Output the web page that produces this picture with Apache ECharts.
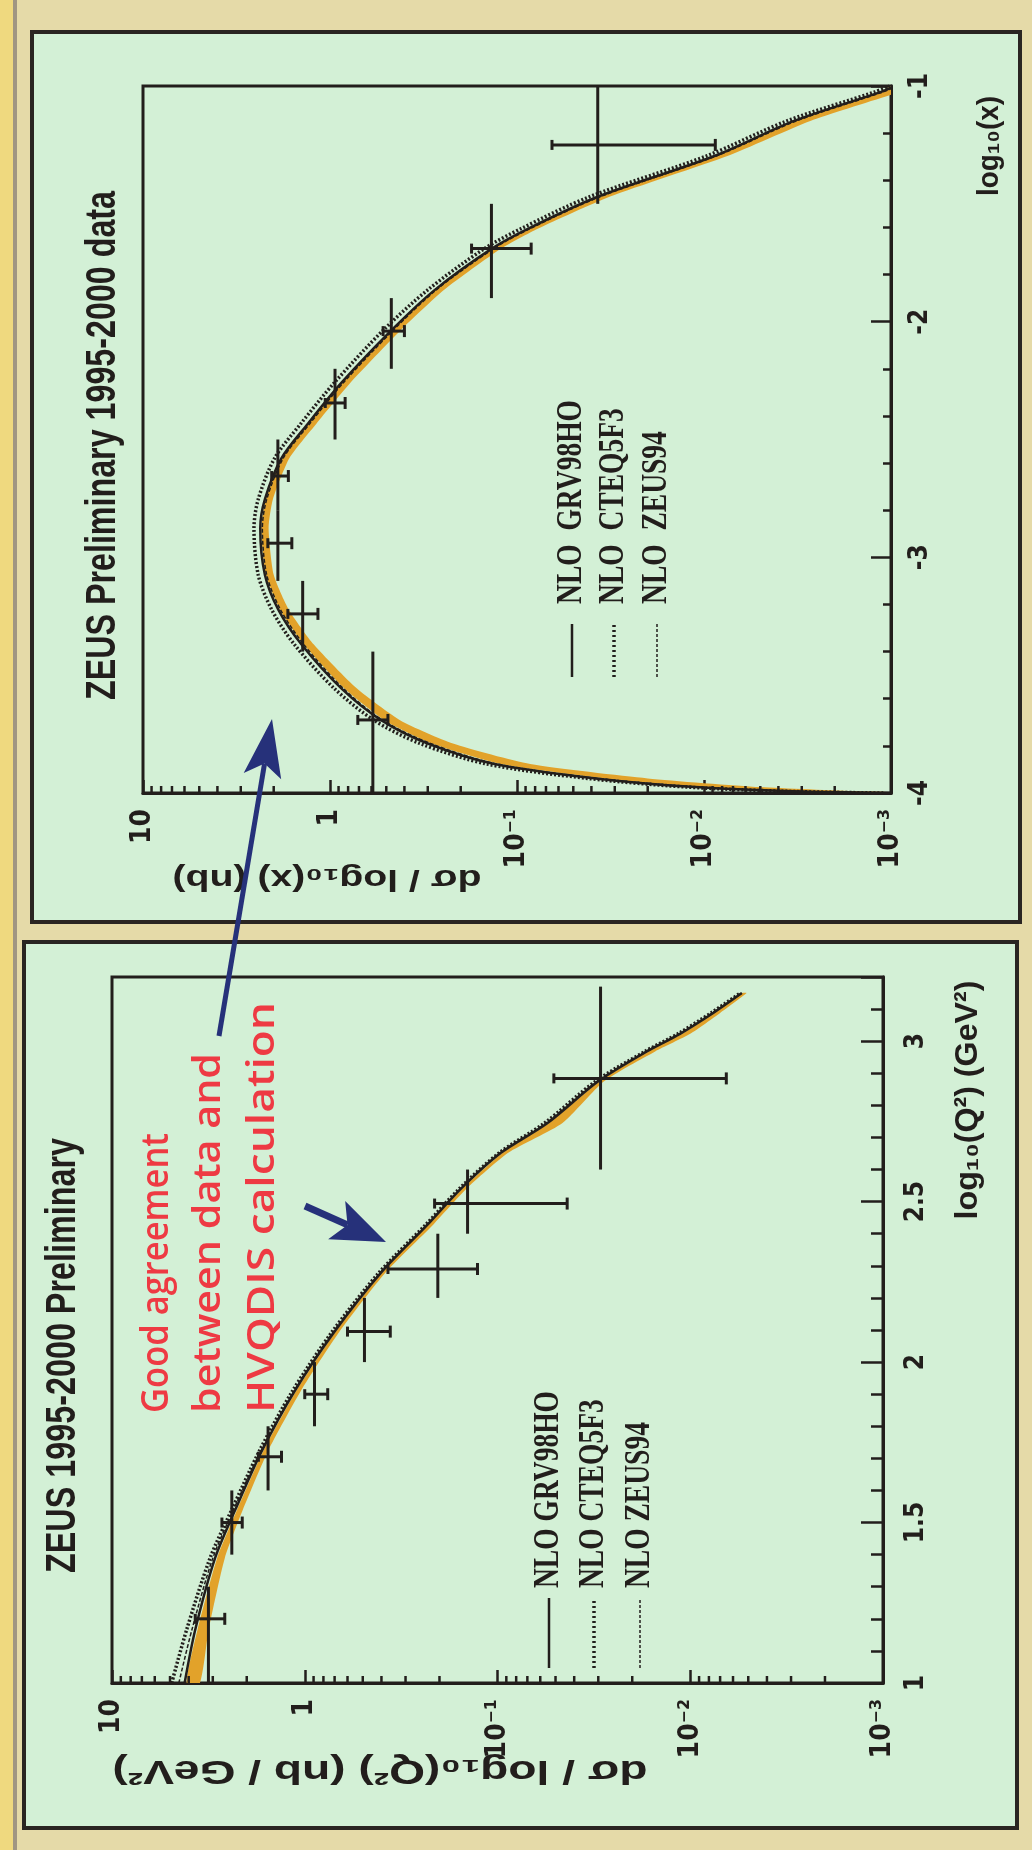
<!DOCTYPE html>
<html><head><meta charset="utf-8">
<script src="https://cdn.jsdelivr.net/npm/echarts@6/dist/echarts.min.js"></script>
<style>html,body{margin:0;padding:0;background:#e5daa8}#c{width:1032px;height:1850px}</style>
</head><body><div id="c"></div>
<script>
// ---------- tick labels ----------
const valTickVals = [10, 1, 0.1, 0.01, 0.001];
const valTickLabels = ['10', '1', '10\u207B\u00B9', '10\u207B\u00B2', '10\u207B\u00B3'];
const valMinorTicks = [0.002,0.003,0.004,0.005,0.006,0.007,0.008,0.009,
  0.02,0.03,0.04,0.05,0.06,0.07,0.08,0.09,
  0.2,0.3,0.4,0.5,0.6,0.7,0.8,0.9,
  2,3,4,5,6,7,8,9];
const lxTickVals = [-4, -3, -2, -1];
const lxTickLabels = ['-4', '-3', '-2', '-1'];
const lqTickVals = [1, 1.5, 2, 2.5, 3];
const lqTickLabels = ['1', '1.5', '2', '2.5', '3'];

// ---------- top panel: d sigma / d log10(x) ----------
const xLogX  = [-4.0, -3.993, -3.975, -3.938, -3.877, -3.79, -3.692, -3.556, -3.37, -3.222, -3.074, -2.877, -2.754, -2.58, -2.432, -2.26, -2.037, -1.865, -1.691, -1.605, -1.47, -1.297, -1.148, -1.025, -1.0];
const xGRV   = [0.0010, 0.0033, 0.0112, 0.038, 0.132, 0.30, 0.53, 0.87, 1.42, 1.89, 2.23, 2.36, 2.23, 1.82, 1.31, 0.87, 0.47, 0.275, 0.137, 0.087, 0.037, 0.0088, 0.0033, 0.00113, 0.00095];
const xCTEQ  = [0.0011, 0.0036, 0.0123, 0.042, 0.145, 0.33, 0.58, 0.95, 1.55, 2.05, 2.42, 2.55, 2.42, 1.98, 1.43, 0.95, 0.52, 0.30, 0.150, 0.095, 0.041, 0.0097, 0.0036, 0.00122, 0.00102];
const xZEUS  = [0.0010, 0.0032, 0.0108, 0.037, 0.128, 0.29, 0.52, 0.85, 1.38, 1.84, 2.18, 2.30, 2.18, 1.78, 1.28, 0.85, 0.46, 0.27, 0.134, 0.085, 0.036, 0.0086, 0.0032, 0.00110, 0.00093];
const xBandLo= [0.0006, 0.0015, 0.0050, 0.020, 0.085, 0.22, 0.42, 0.72, 1.22, 1.66, 2.00, 2.13, 2.02, 1.65, 1.18, 0.78, 0.42, 0.245, 0.122, 0.077, 0.032, 0.0075, 0.0027, 0.00090, 0.00075];
const xBandHi= [0.0009, 0.0029, 0.0098, 0.034, 0.122, 0.285, 0.51, 0.84, 1.38, 1.85, 2.20, 2.33, 2.20, 1.80, 1.29, 0.86, 0.465, 0.272, 0.135, 0.086, 0.0365, 0.0087, 0.0033, 0.00115, 0.00098];
const xPtLogX  = [-3.69, -3.24, -2.94, -2.655, -2.345, -2.04, -1.69, -1.25];
const xPtVal   = [0.59, 1.40, 1.90, 1.90, 0.94, 0.47, 0.137, 0.037];
const xPtHi    = [0.71, 1.68, 2.15, 2.05, 1.06, 0.52, 0.175, 0.065];
const xPtLo    = [0.49, 1.16, 1.60, 1.67, 0.83, 0.40, 0.084, 0.0087];
const xPtBinLo = [-4.0, -3.4, -3.1, -2.8, -2.5, -2.2, -1.9, -1.5];
const xPtBinHi = [-3.4, -3.1, -2.8, -2.5, -2.2, -1.9, -1.5, -1.0];

// ---------- bottom panel: d sigma / d log10(Q2) ----------
const qLogQ2  = [1.0, 1.166, 1.389, 1.538, 1.723, 1.909, 2.095, 2.28, 2.429, 2.54, 2.652, 2.745, 2.875, 2.968, 3.023, 3.088, 3.15];
const qGRV    = [4.2, 3.7, 2.92, 2.30, 1.67, 1.13, 0.70, 0.40, 0.23, 0.155, 0.096, 0.055, 0.030, 0.0168, 0.0113, 0.0076, 0.0054];
const qCTEQ   = [4.9, 4.1, 3.1, 2.4, 1.72, 1.16, 0.72, 0.41, 0.235, 0.158, 0.098, 0.057, 0.031, 0.0172, 0.0116, 0.0078, 0.0055];
const qZEUS   = [4.5, 3.85, 3.0, 2.35, 1.69, 1.14, 0.71, 0.405, 0.232, 0.156, 0.097, 0.056, 0.0305, 0.0170, 0.0114, 0.0077, 0.0054];
const qBandLo = [3.5, 3.15, 2.6, 2.1, 1.55, 1.05, 0.66, 0.38, 0.215, 0.145, 0.088, 0.046, 0.028, 0.0152, 0.0100, 0.0070, 0.0051];
const qBandHi = [4.1, 3.6, 2.85, 2.25, 1.64, 1.11, 0.69, 0.395, 0.228, 0.152, 0.094, 0.054, 0.0295, 0.0165, 0.0110, 0.0075, 0.0054];
const qPtLogQ2 = [1.20, 1.50, 1.705, 1.90, 2.095, 2.29, 2.494, 2.884];
const qPtVal   = [3.16, 2.39, 1.55, 0.89, 0.49, 0.204, 0.143, 0.0292];
const qPtHi    = [3.7, 2.69, 1.74, 1.0, 0.60, 0.37, 0.212, 0.051];
const qPtLo    = [2.6, 2.11, 1.32, 0.76, 0.36, 0.127, 0.0435, 0.0065];
const qPtBinLo = [1.0, 1.4, 1.6, 1.8, 2.0, 2.2, 2.4, 2.6];
const qPtBinHi = [1.3, 1.6, 1.8, 2.0, 2.2, 2.4, 2.6, 3.17];

// ---------- texts ----------
const topTitle = 'ZEUS Preliminary 1995-2000 data';
const botTitle = 'ZEUS 1995-2000 Preliminary';
const topValName = 'd\u03C3 / log\u2081\u2080(x) (nb)';
const botValName = 'd\u03C3 / log\u2081\u2080(Q\u00B2) (nb / GeV\u00B2)';
const topAxName = 'log\u2081\u2080(x)';
const botAxName = 'log\u2081\u2080(Q\u00B2) (GeV\u00B2)';
const topLegend = ['NLO  GRV98HO', 'NLO  CTEQ5F3', 'NLO  ZEUS94'];
const botLegend = ['NLO GRV98HO', 'NLO CTEQ5F3', 'NLO ZEUS94'];
const note = ['Good agreement', 'between data and', 'HVQDIS calculation'];

// ---------- styling ----------
const INK = '#221e1c';
const BAND = '#e2a22a';
const LBLFONT = '"Liberation Sans Narrow","DejaVu Sans Condensed","Liberation Sans",sans-serif';

function findLabel(vals, labels, v, log) {
  for (let i = 0; i < vals.length; i++) {
    const d = log ? Math.abs(Math.log10(v) - Math.log10(vals[i])) : Math.abs(v - vals[i]);
    if (d < 1e-6) return labels[i];
  }
  return '';
}
const mctx = document.createElement('canvas').getContext('2d');
function rtext(text, x, y, rot, font, color, target, align) {
  mctx.font = font;
  const w = mctx.measureText(text).width;
  const sx = target ? target / w : 1;
  return { type: 'text', x: x, y: y, rotation: rot, scaleX: sx, z: 60,
    style: { text: text, font: font, fill: color, align: align || 'left', verticalAlign: 'middle' } };
}
function fitScale(text, font, target) { mctx.font = font; return target / mctx.measureText(text).width; }

function valAxis(gi) {
  return { gridIndex: gi, type: 'log', logBase: 10, min: 0.001, max: 10, inverse: true, position: 'bottom',
    axisLine: { show: true, lineStyle: { color: INK, width: 3 } },
    axisTick: { show: true, inside: true, length: 13, lineStyle: { color: INK, width: 2.5 } },
    axisLabel: { rotate: 90, margin: 16, color: INK, fontSize: 28, fontWeight: 'bold', fontFamily: LBLFONT,
      formatter: v => findLabel(valTickVals, valTickLabels, v, true) },
    splitLine: { show: false } };
}
function errRender(params, api) {
  const v = api.value(0), y = api.value(1);
  const c = api.coord([v, y]);
  const pH = api.coord([api.value(2), y]);
  const pL = api.coord([api.value(3), y]);
  const q0 = api.coord([v, api.value(4)]);
  const q1 = api.coord([v, api.value(5)]);
  const st = { stroke: INK, lineWidth: 3 };
  return { type: 'group', children: [
    { type: 'line', shape: { x1: pH[0], y1: c[1], x2: pL[0], y2: c[1] }, style: st },
    { type: 'line', shape: { x1: c[0], y1: q0[1], x2: c[0], y2: q1[1] }, style: st },
    { type: 'line', shape: { x1: pL[0], y1: c[1] - 6, x2: pL[0], y2: c[1] + 6 }, style: st },
    { type: 'line', shape: { x1: pH[0], y1: c[1] - 5, x2: pH[0], y2: c[1] + 5 }, style: st }
  ] };
}
function bandRender(ys, lo, hi) {
  return function (params, api) {
    const pts = [];
    for (let i = 0; i < ys.length; i++) pts.push(api.coord([hi[i], ys[i]]));
    for (let i = ys.length - 1; i >= 0; i--) pts.push(api.coord([lo[i], ys[i]]));
    return { type: 'polygon', shape: { points: pts, smooth: 0.2 }, style: { fill: BAND } };
  };
}
function minorRender(params, api) {
  const c = api.coord([api.value(0), api.value(1)]);
  return { type: 'line', shape: { x1: c[0], y1: c[1], x2: c[0], y2: c[1] - 7 }, style: { stroke: INK, lineWidth: 2.5 } };
}
function pairs(ys, vs) { return ys.map((y, i) => [vs[i], y]); }
function errData(ys, v, hi, lo, b0, b1) { return ys.map((y, i) => [v[i], y, hi[i], lo[i], b0[i], b1[i]]); }
function lineSeries(xi, yi, data, style, z) {
  return { type: 'line', xAxisIndex: xi, yAxisIndex: yi, data: data, showSymbol: false, symbol: 'none',
    smooth: 0.3, lineStyle: style, z: z, silent: true };
}

const series = [
  // top
  { type: 'custom', xAxisIndex: 0, yAxisIndex: 0, data: [[1, -2]], renderItem: bandRender(xLogX, xBandLo, xBandHi), clip: true, z: 1, silent: true },
  lineSeries(0, 0, pairs(xLogX, xZEUS), { color: INK, width: 1.5, type: [4, 2] }, 3),
  lineSeries(0, 0, pairs(xLogX, xCTEQ), { color: INK, width: 3.5, type: [2, 2] }, 3),
  lineSeries(0, 0, pairs(xLogX, xGRV), { color: INK, width: 2.5 }, 4),
  { type: 'custom', xAxisIndex: 0, yAxisIndex: 0, data: errData(xPtLogX, xPtVal, xPtHi, xPtLo, xPtBinLo, xPtBinHi), renderItem: errRender, clip: true, z: 5, silent: true, encode: { x: 0, y: 1 } },
  { type: 'custom', xAxisIndex: 0, yAxisIndex: 0, data: valMinorTicks.map(v => [v, lxTickVals[0]]), renderItem: minorRender, clip: false, z: 6, silent: true, encode: { x: 0, y: 1 } },
  // bottom
  { type: 'custom', xAxisIndex: 1, yAxisIndex: 1, data: [[1, 2]], renderItem: bandRender(qLogQ2, qBandLo, qBandHi), clip: true, z: 1, silent: true },
  lineSeries(1, 1, pairs(qLogQ2, qZEUS), { color: INK, width: 1.5, type: [4, 2] }, 3),
  lineSeries(1, 1, pairs(qLogQ2, qCTEQ), { color: INK, width: 3.5, type: [2, 2] }, 3),
  lineSeries(1, 1, pairs(qLogQ2, qGRV), { color: INK, width: 2.5 }, 4),
  { type: 'custom', xAxisIndex: 1, yAxisIndex: 1, data: errData(qPtLogQ2, qPtVal, qPtHi, qPtLo, qPtBinLo, qPtBinHi), renderItem: errRender, clip: true, z: 5, silent: true, encode: { x: 0, y: 1 } },
  { type: 'custom', xAxisIndex: 1, yAxisIndex: 1, data: valMinorTicks.map(v => [v, lqTickVals[0]]), renderItem: minorRender, clip: false, z: 6, silent: true, encode: { x: 0, y: 1 } }
];

// ---------- decorations ----------
const g = [];
g.push({ type: 'rect', shape: { x: 0, y: 0, width: 13, height: 1850 }, style: { fill: '#efd97f' }, z: -20 });
g.push({ type: 'rect', shape: { x: 13, y: 0, width: 4, height: 1850 }, style: { fill: '#a09682' }, z: -20 });
g.push({ type: 'rect', shape: { x: 32, y: 32, width: 988, height: 890 }, style: { fill: '#d3f0d6', stroke: '#2a2522', lineWidth: 4 }, z: -10 });
g.push({ type: 'rect', shape: { x: 24, y: 942, width: 993, height: 886 }, style: { fill: '#d3f0d6', stroke: '#2a2522', lineWidth: 4 }, z: -10 });

const UP = Math.PI / 2;
const TFONT = 'bold 42px "Liberation Sans", Arial, sans-serif';
g.push(rtext(topTitle, 103, 700, UP, TFONT, INK, 509));
g.push(rtext(botTitle, 63, 1573, UP, TFONT, INK, 435));
g.push(rtext(topValName, 327, 878, Math.PI, 'bold 30px "Liberation Sans", sans-serif', INK, 309, 'center'));
g.push(rtext(botValName, 380, 1770, Math.PI, 'bold 34px "Liberation Sans", sans-serif', INK, 535, 'center'));
g.push(rtext(topAxName, 990, 146, UP, 'bold 30px "Liberation Sans", sans-serif', INK, 100, 'center'));
g.push(rtext(botAxName, 968, 1100, UP, 'bold 32px "Liberation Sans", sans-serif', INK, 239, 'center'));

// legends
const LFONT = 'bold 36px "Liberation Serif", "Times New Roman", serif';
const topLegX = [572, 614, 657];
const botLegX = [549, 594, 640];
const lsx1 = fitScale(topLegend[0], LFONT, 204);
const lsx2 = fitScale(botLegend[0], LFONT, 197);
topLegend.forEach((t, i) => { const e = rtext(t, topLegX[i], 604, UP, LFONT, INK, 0); e.scaleX = lsx1; g.push(e); });
botLegend.forEach((t, i) => { const e = rtext(t, botLegX[i], 1588, UP, LFONT, INK, 0); e.scaleX = lsx2; g.push(e); });
const sampleStyles = [
  { stroke: INK, lineWidth: 2.5 },
  { stroke: INK, lineWidth: 3.5, lineDash: [2, 3] },
  { stroke: INK, lineWidth: 1.5, lineDash: [3, 2] }
];
topLegX.forEach((x, i) => g.push({ type: 'line', shape: { x1: x, y1: 677, x2: x, y2: 624 }, style: sampleStyles[i], z: 60 }));
botLegX.forEach((x, i) => g.push({ type: 'line', shape: { x1: x, y1: 1668, x2: x, y2: 1598 }, style: sampleStyles[i], z: 60 }));

// red annotation
const NFONT = '600 38px "Open Sans", "DejaVu Sans", sans-serif';
const noteX = [157, 209, 263];
const noteLen = [280, 360, 411];
note.forEach((t, i) => g.push(rtext(t, noteX[i], 1413, UP, NFONT, '#ee3a43', noteLen[i])));

// arrows
const NAVY = '#26317a';
function arrow(tail, tip, L, W, shaftW) {
  const dx = tip[0] - tail[0], dy = tip[1] - tail[1];
  const len = Math.hypot(dx, dy); const ux = dx / len, uy = dy / len;
  const nx = -uy, ny = ux;
  const bx = tip[0] - L * ux, by = tip[1] - L * uy;
  const kx = tip[0] - 0.78 * L * ux, ky = tip[1] - 0.78 * L * uy;
  g.push({ type: 'line', shape: { x1: tail[0], y1: tail[1], x2: kx, y2: ky }, style: { stroke: NAVY, lineWidth: shaftW }, z: 70 });
  g.push({ type: 'polygon', shape: { points: [tip, [bx + W * nx, by + W * ny], [kx, ky], [bx - W * nx, by - W * ny]] }, style: { fill: NAVY }, z: 70 });
}
arrow([219, 1036], [272, 719], 58, 19, 5);
arrow([305, 1206], [386, 1242], 54, 21, 7);

const option = {
  animation: false,
  backgroundColor: '#e5daa8',
  grid: [
    { left: 143, top: 86, width: 748, height: 707, show: true, borderColor: INK, borderWidth: 3, backgroundColor: 'rgba(0,0,0,0)' },
    { left: 112, top: 977, width: 771, height: 706, show: true, borderColor: INK, borderWidth: 3, backgroundColor: 'rgba(0,0,0,0)' }
  ],
  xAxis: [valAxis(0), valAxis(1)],
  yAxis: [
    { gridIndex: 0, type: 'value', min: -4, max: -1, interval: 1, position: 'right',
      axisLine: { show: true, lineStyle: { color: INK, width: 3 } },
      axisTick: { show: true, inside: true, length: 20, lineStyle: { color: INK, width: 2.5 } },
      minorTick: { show: true, splitNumber: 5, length: 8, lineStyle: { color: INK, width: 2.5 } },
      axisLabel: { rotate: 90, margin: 16, color: INK, fontSize: 26, fontWeight: 'bold', fontFamily: LBLFONT,
        formatter: v => findLabel(lxTickVals, lxTickLabels, v, false) },
      splitLine: { show: false }, minorSplitLine: { show: false } },
    { gridIndex: 1, type: 'value', min: 1, max: 3.2, interval: 0.5, position: 'right',
      axisLine: { show: true, lineStyle: { color: INK, width: 3 } },
      axisTick: { show: true, inside: true, length: 22, lineStyle: { color: INK, width: 2.5 } },
      axisLabel: { rotate: 90, margin: 20, color: INK, fontSize: 26, fontWeight: 'bold', fontFamily: LBLFONT,
        formatter: v => findLabel(lqTickVals, lqTickLabels, v, false) },
      splitLine: { show: false } },
    { gridIndex: 1, type: 'value', min: 1, max: 3.2, interval: 0.1, position: 'right',
      axisLine: { show: false },
      axisTick: { show: true, inside: true, length: 12, lineStyle: { color: INK, width: 2.5 } },
      axisLabel: { show: false }, splitLine: { show: false } }
  ],
  series: series,
  graphic: { elements: g }
};
const chart = echarts.init(document.getElementById('c'), null, { renderer: 'canvas' });
chart.setOption(option);
</script></body></html>
